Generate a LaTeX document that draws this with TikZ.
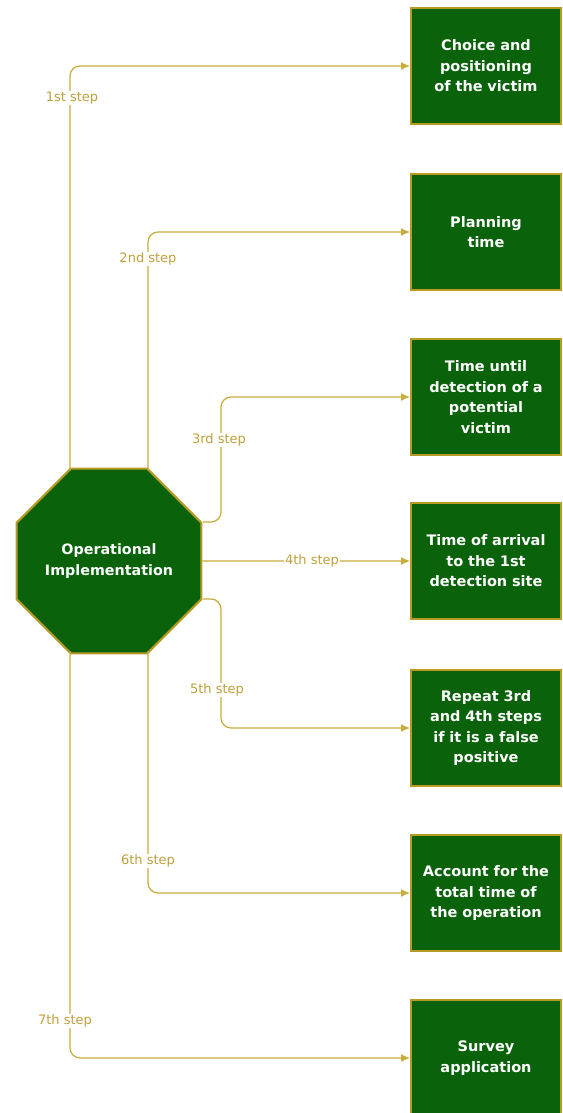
\documentclass[tikz,border=0pt]{standalone}
\usepackage{fontspec}
\setmainfont{DejaVu Sans}
\usetikzlibrary{shapes.geometric,arrows.meta}
\definecolor{boxgreen}{RGB}{10,98,10}
\definecolor{gold}{RGB}{185,155,35}
\definecolor{linegold}{RGB}{200,172,60}
\definecolor{lblgold}{RGB}{190,160,60}
\begin{document}
\begin{tikzpicture}[x=1pt,y=-1pt,
  box/.style={draw=gold,line width=2pt,fill=boxgreen,minimum width=150pt,minimum height=116pt,
    text width=148pt,align=center,text=white,font=\bfseries\fontsize{14.5}{20.5}\selectfont,inner sep=0pt},
  octa/.style={regular polygon,regular polygon sides=8,minimum size=200pt,draw=gold,line width=2pt,
    fill=boxgreen,inner sep=0pt,text=white,align=center,font=\bfseries\fontsize{14.3}{20.5}\selectfont},
  conn/.style={draw=linegold,line width=1.2pt,rounded corners=10pt,-{Latex[length=9pt,width=8pt]}},
  lbl/.style={fill=white,text=lblgold,font=\fontsize{13}{15}\selectfont,inner sep=1pt}]
\useasboundingbox (0,0) rectangle (562,1113);
\begin{scope}
\clip (0,0) rectangle (562,1113);
\node[box] (b1) at (486,66) {Choice and\\positioning\\of the victim};
\node[box] (b2) at (486,232) {Planning\\time};
\node[box] (b3) at (486,397) {Time until\\detection of a\\potential\\victim};
\node[box] (b4) at (486,561) {Time of arrival\\to the 1st\\detection site};
\node[box] (b5) at (486,728) {Repeat 3rd\\and 4th steps\\if it is a false\\positive};
\node[box] (b6) at (486,893) {Account for the\\total time of\\the operation};
\node[box] (b7) at (486,1058) {Survey\\application};
\end{scope}
\node[octa] (oct) at (109,561) {Operational\\Implementation};
\coordinate (t1) at (70,470);
\coordinate (t2) at (148,470);
\coordinate (r1) at (203,522);
\coordinate (r3) at (203,599);
\coordinate (d2) at (148,651);
\coordinate (d1) at (70,651);
\draw[conn] (t1) |- (b1.west);
\draw[conn] (t2) |- (b2.west);
\draw[conn] (r1) -- (221,522) |- (b3.west);
\draw[conn] (oct.east) -- (b4.west);
\draw[conn] (r3) -- (221,599) |- (b5.west);
\draw[conn] (d2) |- (b6.west);
\draw[conn] (d1) |- (b7.west);
\node[lbl] (l1) at (72,98) {1st step};
\node[lbl] (l2) at (148,259) {2nd step};
\node[lbl] (l3) at (219,440) {3rd step};
\node[lbl] (l4) at (312,561) {4th step};
\node[lbl] (l5) at (217,690) {5th step};
\node[lbl] (l6) at (148,861) {6th step};
\node[lbl] (l7) at (65,1021) {7th step};
\end{tikzpicture}
\end{document}
